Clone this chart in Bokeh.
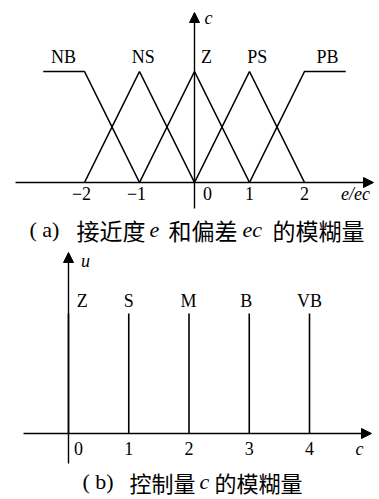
from bokeh.plotting import figure
from bokeh.layouts import column
from bokeh.models import Range1d, Arrow, NormalHead
from bokeh.core.properties import value
from bokeh.embed import file_html
from bokeh.resources import INLINE

# ---------------- data: (a) membership functions of e / ec ----------------
terms_a = ["NB", "NS", "Z", "PS", "PB"]
nb_e = [-2.75, -2, -1]
nb_mu = [1, 1, 0]
ns_e = [-2, -1, 0]
ns_mu = [0, 1, 0]
z_e = [-1, 0, 1]
z_mu = [0, 1, 0]
ps_e = [0, 1, 2]
ps_mu = [0, 1, 0]
pb_e = [1, 2, 2.75]
pb_mu = [0, 1, 1]
label_e = [-2.38, -0.93, 0.22, 1.14, 2.42]
label_mu = [1.135, 1.135, 1.135, 1.135, 1.135]
ticks_a = [-2, -1, 0, 1, 2]
tick_labels_a = ["\u22122", "\u22121", "0", "1", "2"]

# ---------------- data: (b) singletons of control c ----------------
terms_b = ["Z", "S", "M", "B", "VB"]
c_vals = [0, 1, 2, 3, 4]
u_vals = [1, 1, 1, 1, 1]
label_c = [0.23, 1.0, 1.99, 2.95, 4.0]
label_u = [1.108, 1.108, 1.108, 1.108, 1.108]
ticks_b = [0, 1, 2, 3, 4]
tick_labels_b = ["0", "1", "2", "3", "4"]

SERIF = value("Liberation Serif")
CJK = value("Noto Sans CJK SC")
W = 379
H_A = 248
H_B = 251
LW = 1.6
FS = "18px"


# layout helpers (page pixel -> data units), used only for placement
def ax_(sx):
    return (sx - 194) / 55.0


def ay_(sy):
    return (182 - sy) / 111.0


def bx_(sx):
    return (sx - 68) / 60.25


def by_(sy):
    return (433 - sy) / 120.0


def make_fig(h, xr, yr):
    p = figure(width=W, height=h, x_range=xr, y_range=yr,
               output_backend="svg", toolbar_location=None,
               x_axis_location=None, y_axis_location=None,
               min_border=0, min_border_left=0, min_border_right=0,
               min_border_top=0, min_border_bottom=0)
    p.grid.visible = False
    p.outline_line_color = None
    p.background_fill_color = "white"
    p.border_fill_color = "white"
    return p


def arrow(x0, y0, x1, y1):
    return Arrow(x_start=x0, y_start=y0, x_end=x1, y_end=y1,
                 line_color="black", line_width=1.4,
                 end=NormalHead(size=10, fill_color="black", line_color="black", line_width=1))


def txt(p, x, y, s, font=SERIF, style="normal", size=FS, align="center", x_offset=0):
    p.text(x, y, text=s, text_font=font, text_font_style=style, text_font_size=size,
           text_align=align, text_baseline="middle", text_color="black", x_offset=x_offset)


# ---------------- figure (a) ----------------
pa = make_fig(H_A, Range1d(ax_(0), ax_(W)), Range1d(ay_(H_A), ay_(0)))
pa.add_layout(arrow(ax_(15), 0, ax_(373), 0))
pa.add_layout(arrow(0, ay_(208), 0, ay_(12)))

for xs, ys in [(nb_e, nb_mu), (ns_e, ns_mu), (z_e, z_mu), (ps_e, ps_mu), (pb_e, pb_mu)]:
    pa.line(xs, ys, line_color="black", line_width=LW)

txt(pa, label_e, label_mu, terms_a)

offs_a = [13 if t == 0 else (-3 if t < 0 else 0) for t in ticks_a]
txt(pa, ticks_a, [ay_(193)] * len(ticks_a), tick_labels_a, x_offset=offs_a)
txt(pa, [ax_(355)], [ay_(193)], ["e/ec"], style="italic")
txt(pa, [ax_(208)], [ay_(17)], ["c"], style="italic")

cap_y_a = ay_(229)
cap_a = [("( a)", 29, SERIF, "normal", "22px"),
         ("接近度", 76, CJK, "normal", "23px"),
         ("e", 149, SERIF, "italic", "22px"),
         ("和偏差", 168, CJK, "normal", "23px"),
         ("ec", 242, SERIF, "italic", "22px"),
         ("的模糊量", 272, CJK, "normal", "23px")]
for s, sx, fnt, sty, sz in cap_a:
    txt(pa, [ax_(sx)], [cap_y_a], [s], font=fnt, style=sty, size=sz, align="left")

# ---------------- figure (b) ----------------
pb = make_fig(H_B, Range1d(bx_(0), bx_(W)), Range1d(by_(248 + H_B), by_(248)))
pb.add_layout(arrow(bx_(23), 0, bx_(371), 0))
pb.add_layout(arrow(0, by_(463), 0, by_(252)))

pb.segment(x0=c_vals, y0=[0] * len(c_vals), x1=c_vals, y1=u_vals,
           line_color="black", line_width=LW)

txt(pb, label_c, label_u, terms_b)

offs_b = [10 if t == 0 else 0 for t in ticks_b]
txt(pb, ticks_b, [by_(448)] * len(ticks_b), tick_labels_b, x_offset=offs_b)
txt(pb, [bx_(359)], [by_(448)], ["c"], style="italic")
txt(pb, [bx_(85)], [by_(260)], ["u"], style="italic")

cap_y_b = by_(481)
cap_b = [("( b)", 82, SERIF, "normal", "22px"),
         ("控制量", 129, CJK, "normal", "22px"),
         ("c", 199, SERIF, "italic", "22px"),
         ("的模糊量", 214, CJK, "normal", "22px")]
for s, sx, fnt, sty, sz in cap_b:
    txt(pb, [bx_(sx)], [cap_y_b], [s], font=fnt, style=sty, size=sz, align="left")

layout = column(pa, pb, spacing=0)
open("out.html", "w").write(file_html(layout, INLINE))
